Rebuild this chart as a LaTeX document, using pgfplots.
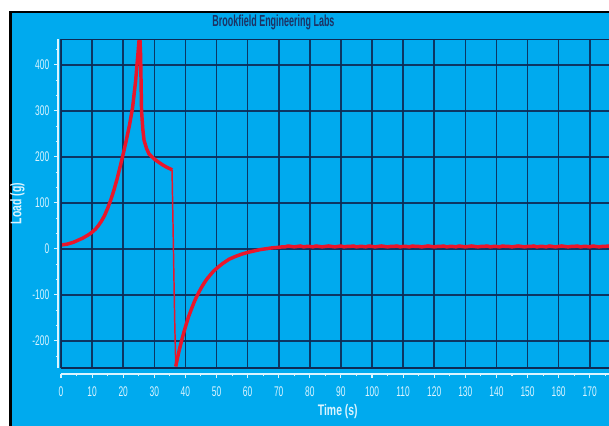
\documentclass[border=0pt]{standalone}
\usepackage{pgfplots}
\pgfplotsset{compat=1.18}
\usepackage{fontspec}
\setmainfont{Liberation Sans}
\newfontfamily\narrowfont[FakeStretch=0.6]{Liberation Sans}
\newfontfamily\labelfont[FakeStretch=0.68]{Liberation Sans Bold}
\newfontfamily\titlefont[FakeStretch=0.56]{Liberation Sans Bold}

\definecolor{bgblue}{RGB}{0,170,238}
\definecolor{gridnavy}{RGB}{14,42,84}
\definecolor{labelcyan}{RGB}{218,244,255}
\definecolor{titlenavy}{RGB}{28,50,100}
\definecolor{curvered}{RGB}{234,22,42}

\begin{document}
\begin{tikzpicture}
% page: 609 x 425 px at 0.75pt per px
\useasboundingbox (0,0) rectangle (456.75pt,318.75pt);
\fill[white] (0,0) rectangle (456.75pt,318.75pt);
\fill[black] (6.4pt,-10pt) rectangle (470pt,310.5pt);
\fill[bgblue] (9pt,-10pt) rectangle (470pt,309pt);

\node[font=\titlefont\fontsize{12}{13}\selectfont, text=titlenavy]
  at (205.1pt,302.3pt) {Brookfield Engineering Labs};

\begin{axis}[
  at={(45.75pt,42.75pt)}, anchor=south west,
  scale only axis,
  width=415.2pt, height=246.75pt,
  xmin=0, xmax=178,
  ymin=-259.3, ymax=455.9,
  axis lines*=left,
  axis x line shift=4.5pt,
  axis y line shift=2.3pt,
  axis line style={labelcyan, line width=1.1pt},
  xtick distance=10, ytick distance=100,
  minor x tick num=1, minor y tick num=2,
  tick align=outside,
  major tick length=3pt, minor tick length=1.8pt,
  every tick/.style={labelcyan, line width=0.8pt},
  grid=major,
  major grid style={gridnavy, line width=1.2pt, opacity=0.9},
  minor grid style={draw=none},
  /pgf/number format/assume math mode=true,
  ticklabel style={font=\narrowfont\fontsize{10.5}{11}\selectfont, text=labelcyan},
  xticklabel style={yshift=-3pt},
  label style={font=\labelfont\fontsize{11.5}{12}\selectfont, text=labelcyan},
  xlabel={Time (s)},
  ylabel={Load (g)},
  xlabel style={yshift=1pt},
  ylabel style={yshift=-1pt},
  clip=true,
]
% load rise up to the peak and the following plateau
\addplot[curvered, line width=2.6pt, line join=round] coordinates {
(0,8) (1,9) (2,10) (3,12) (4,14) (5,17) (6,20) (7,23) (8,27) (9,31)
(10,36) (11,42) (12,50) (13,60) (14,72) (15,88) (16,106) (17,127)
(18,151) (19,178) (20,206) (21,236) (22,268) (23,306) (24,365)
(24.5,405) (25,445) (25.3,470) (25.6,420) (25.9,300) (26.3,260)
(26.7,236) (27.5,218) (28.3,206) (30,195) (31,190) (32.5,183)
(34,177) (35.3,173) (35.7,171)
};
% sudden release
\addplot[curvered, line width=1.1pt] coordinates {
(35.7,171) (36.0,60) (36.3,-60) (36.6,-170) (36.9,-256)
};
% recovery back to the baseline
\addplot[curvered, line width=2.6pt, line join=round] coordinates {
(36.9,-256) (37.5,-236) (38,-221) (39,-194) (40,-170) (41,-148)
(42,-130) (43,-113) (44,-99) (45,-86) (46,-75) (47,-65) (48,-57)
(49,-49) (50,-43) (52,-32) (54,-23) (56,-17) (58,-12) (60,-8)
(62,-5) (64,-2) (66,0) (68,2) (70,3) (71,4) (72,4) (73,6) (74,5)
(75,4) (76,5) (77,6) (78,4) (79,5) (80,5) (81,4) (82,6) (83,5)
(84,4) (85,5) (86,6) (87,5) (88,4) (89,5) (90,6) (91,4) (92,5)
(93,5) (94,6) (95,4) (96,5) (97,5) (98,4) (99,6) (100,5) (101,4)
(102,5) (103,6) (104,5) (105,4) (106,5) (107,5) (108,6) (109,4)
(110,5) (111,5) (112,4) (113,6) (114,5) (115,5) (116,4) (117,5)
(118,6) (119,5) (120,4) (121,5) (122,5) (123,6) (124,4) (125,5)
(126,5) (127,4) (128,6) (129,5) (130,4) (131,5) (132,6) (133,5)
(134,4) (135,5) (136,5) (137,6) (138,4) (139,5) (140,5) (141,4)
(142,6) (143,5) (144,5) (145,4) (146,5) (147,6) (148,5) (149,4)
(150,5) (151,5) (152,6) (153,4) (154,5) (155,5) (156,4) (157,6)
(158,5) (159,4) (160,5) (161,6) (162,5) (163,4) (164,5) (165,5)
(166,6) (167,4) (168,5) (169,5) (170,4) (171,6) (172,5) (173,4)
(174,5) (175,5) (176,6) (177,4) (178,5)
};
\draw[gridnavy, line width=1.2pt] (rel axis cs:0,0) rectangle (rel axis cs:1,1);
\end{axis}
\end{tikzpicture}
\end{document}
